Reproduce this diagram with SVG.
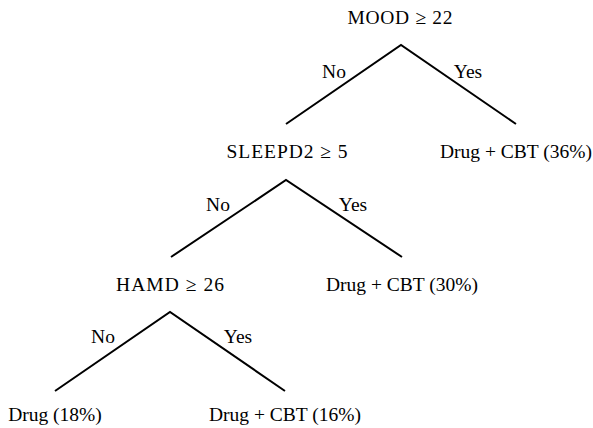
<svg xmlns="http://www.w3.org/2000/svg" width="593" height="428" viewBox="0 0 593 428">
<style>
text{font-family:"Liberation Serif","Times New Roman",serif;font-size:19.5px;fill:#000;text-anchor:middle}
.e{stroke:#000;stroke-width:2;fill:none}
</style>
<rect width="593" height="428" fill="#fff"/>
<g id="connectors">
<polyline class="e" points="286,124 401,45 516,124"/>
<polyline class="e" points="171,257 286,180 402,257"/>
<polyline class="e" points="55,391 170,312 285,391"/>
</g>
<g id="edge-labels">
<text x="334" y="78">No</text>
<text x="468" y="78">Yes</text>
<text x="218" y="211">No</text>
<text x="353" y="211">Yes</text>
<text x="103" y="343">No</text>
<text x="238" y="343">Yes</text>
</g>
<g id="n-mood"><text x="400" y="24" textLength="105" lengthAdjust="spacing">MOOD ≥ 22</text></g>
<g id="n-sleep"><text x="287" y="158" textLength="121" lengthAdjust="spacing">SLEEPD2 ≥ 5</text></g>
<g id="n-leaf36"><text x="516" y="158">Drug + CBT (36%)</text></g>
<g id="n-hamd"><text x="170" y="291" textLength="108" lengthAdjust="spacing">HAMD ≥ 26</text></g>
<g id="n-leaf30"><text x="402" y="291">Drug + CBT (30%)</text></g>
<g id="n-leaf18"><text x="55" y="421">Drug (18%)</text></g>
<g id="n-leaf16"><text x="285" y="421">Drug + CBT (16%)</text></g>
</svg>
